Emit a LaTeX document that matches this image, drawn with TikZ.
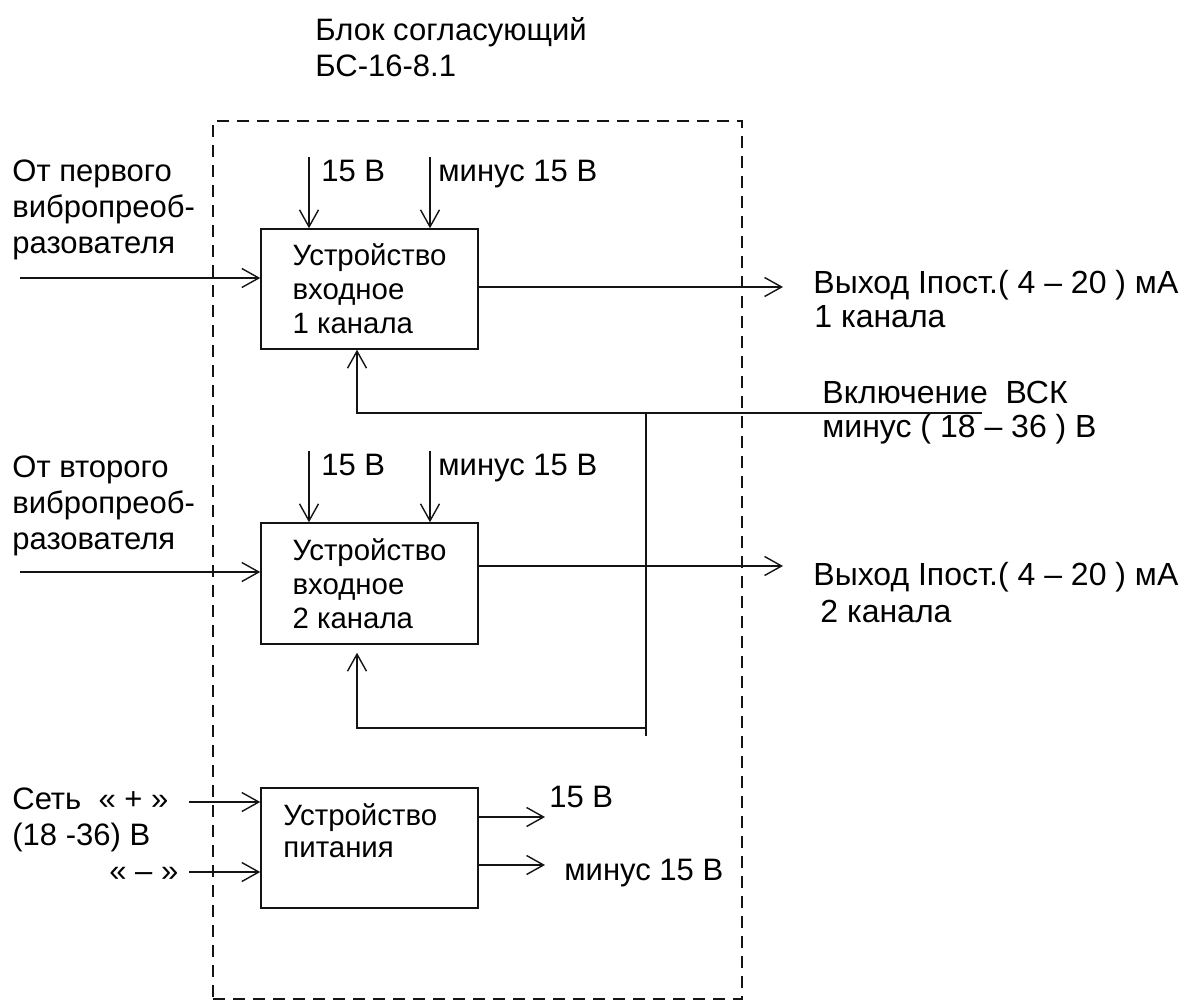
\documentclass[tikz,border=0pt]{standalone}
\usepackage{fontspec}
\setmainfont{Liberation Sans}
\usepackage{tikz}
\usetikzlibrary{arrows.meta,positioning,calc}
\definecolor{SchemaInk}{RGB}{20,20,20}
\tikzset{
  blok/.style={draw=SchemaInk, line width=0.75pt, align=left, inner sep=0pt,
               font=\fontsize{14.7}{17}\selectfont, minimum width=108.5pt, minimum height=60pt},
  ramka/.style={draw=SchemaInk, line width=0.75pt, dash pattern=on 6pt off 4pt,
               inner sep=0pt, minimum width=264.5pt, minimum height=439pt},
  nadpis/.style={font=\fontsize{15.5}{18}\selectfont, inner sep=0pt, align=left, anchor=base west},
  vyhnadpis/.style={nadpis, font=\fontsize{16}{18}\selectfont},
  % connectors: open barbed tips, plain lines for the switching bus
  strelka/.style={-{Straight Barb[length=8.5pt,width=9.5pt]}, line width=0.7pt, SchemaInk},
  liniya/.style={line width=0.7pt, SchemaInk},
}

\begin{document}
\begin{tikzpicture}[x=0.5pt, y=-0.5pt]
  \useasboundingbox (0,0) rectangle (1186,1005);

  \node[nadpis] (zagolovok) at (315,77) {Блок согласующий\\БС-16-8.1};
  \node[ramka] (blokbs) at (477.5,560) {};

  \node[blok] (kanal1) at (369.5,289)   {Устройство\\входное\\1 канала};
  \node[blok,minimum height=60.5pt] (kanal2) at (369.5,583.5) {Устройство\\входное\\2 канала};
  \node[blok] (pitanie) at (369.5,848) {};
  \node[nadpis,font=\fontsize{14.7}{16}\selectfont] (pitanietxt) at (283,857) {Устройство\\питания};

  % channel 1
  \node[nadpis] (ist1) at (12,254) {От первого\\вибропреоб-\\разователя};
  \node[nadpis] (plus1) at (321,182) {15 В};
  \node[nadpis] (minus1) at (438,182) {минус 15 В};
  \node[vyhnadpis] (vyh1txt) at (813,293) {Выход Iпост.( 4 – 20 ) мА};
  \node[vyhnadpis] (kan1txt) at (814,328) {1 канала};

  \coordinate (vhod1) at (20,278);
  \coordinate (vyhod1) at (783,287);
  \coordinate (pit1a) at (309,157);
  \coordinate (pit1b) at (430,157);
  \draw[strelka] (vhod1) -- (vhod1 -| kanal1.west);
  \draw[strelka] (vyhod1 -| kanal1.east) -- (vyhod1);
  \draw[strelka] (pit1a) -- (pit1a |- kanal1.north);
  \draw[strelka] (pit1b) -- (pit1b |- kanal1.north);

  % VSK switching bus
  \node[vyhnadpis] (vsktxt) at (822,403) {Включение~~ВСК};
  \node[vyhnadpis] (vskminus) at (822,437) {минус ( 18 – 36 ) В};
  \coordinate (vsk) at (982,413);
  \coordinate (razv) at (646,413);
  \coordinate (razvniz) at (646,736);
  \coordinate (fb2) at (646,728);
  \draw[strelka] (vsk) -| ($(kanal1.south)+(-12.5,0)$);
  \draw[liniya] (razv) -- (razvniz);
  \draw[strelka,shorten >=4pt] (fb2) -| ($(kanal2.south)+(-12.5,0)$);

  % channel 2
  \node[nadpis] (ist2) at (12,549) {От второго\\вибропреоб-\\разователя};
  \node[nadpis] (plus2) at (321,475) {15 В};
  \node[nadpis] (minus2) at (438,475) {минус 15 В};
  \node[vyhnadpis] (vyh2txt) at (813,585) {Выход Iпост.( 4 – 20 ) мА};
  \node[vyhnadpis] (kan2txt) at (820,622) {2 канала};

  \coordinate (vhod2) at (20,572);
  \coordinate (vyhod2) at (783,566);
  \coordinate (pit2a) at (309,451);
  \coordinate (pit2b) at (430,451);
  \draw[strelka] (vhod2) -- (vhod2 -| kanal2.west);
  \draw[strelka] (vyhod2 -| kanal2.east) -- (vyhod2);
  \draw[strelka] (pit2a) -- (pit2a |- kanal2.north);
  \draw[strelka] (pit2b) -- (pit2b |- kanal2.north);

  % power supply
  \node[nadpis] (set) at (12,845) {Сеть~~« + »\\(18 -36) В};
  \node[nadpis] (setminus) at (109,881) {« – »};
  \node[nadpis] (vyhplus) at (549,807) {15 В};
  \node[nadpis] (vyhminus) at (564,880) {минус 15 В};

  \coordinate (setp) at (189,802);
  \coordinate (setm) at (189,872);
  \coordinate (pplus) at (545,817);
  \coordinate (pminus) at (545,865);
  \draw[strelka] (setp) -- (setp -| pitanie.west);
  \draw[strelka] (setm) -- (setm -| pitanie.west);
  \draw[strelka] (pplus -| pitanie.east) -- (pplus);
  \draw[strelka] (pminus -| pitanie.east) -- (pminus);

\end{tikzpicture}
\end{document}
